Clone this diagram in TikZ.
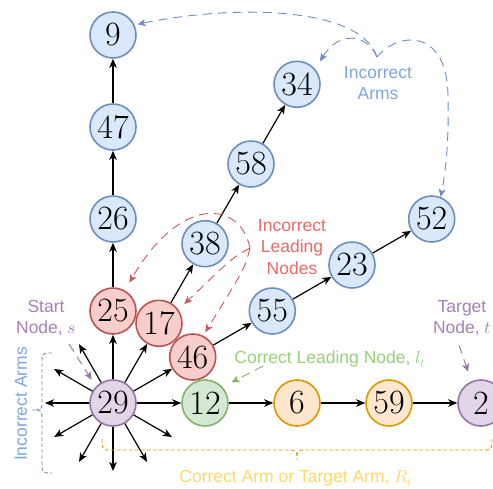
\documentclass[tikz,border=0pt]{standalone}
\usepackage{fontspec}
\usepackage{unicode-math}
\setmathfont{Latin Modern Math}
\newfontfamily\lblfont{Liberation Sans}
\usetikzlibrary{arrows.meta}

\definecolor{bluF}{HTML}{DAE8FC}\definecolor{bluD}{HTML}{6C8EBF}
\definecolor{redF}{HTML}{F8CECC}\definecolor{redD}{HTML}{B85450}
\definecolor{grnF}{HTML}{D5E8D4}\definecolor{grnD}{HTML}{82B366}
\definecolor{orgF}{HTML}{FFE6CC}\definecolor{orgD}{HTML}{D79B00}
\definecolor{purF}{HTML}{E1D5E7}\definecolor{purD}{HTML}{9673A6}
\definecolor{bluT}{HTML}{7EA6E0}
\definecolor{redT}{HTML}{EA6B66}
\definecolor{redH}{HTML}{C95A58}
\definecolor{grnT}{HTML}{97D077}
\definecolor{ylwT}{HTML}{FFD966}
\definecolor{purT}{HTML}{A680B8}

\tikzset{
  vtx/.style={circle, minimum size=46pt, inner sep=0pt, line width=1.6pt,
    font=\fontsize{34}{34}\selectfont},
  bluV/.style={vtx, draw=bluD, fill=bluF},
  redV/.style={vtx, draw=redD, fill=redF},
  grnV/.style={vtx, draw=grnD, fill=grnF},
  orgV/.style={vtx, draw=orgD, fill=orgF},
  purV/.style={vtx, draw=purD, fill=purF},
  arm/.style={-{Stealth[length=9pt,width=7.5pt,inset=2.5pt]}, line width=1.2pt, black},
  hint/.style={-{Stealth[length=8pt,width=7pt,inset=2pt]}, line width=0.9pt,
    dash pattern=on 9pt off 6pt},
  brace/.style={line width=0.9pt, dash pattern=on 3.5pt off 2.5pt},
  lbl/.style={font=\lblfont\fontsize{17.5}{21.5}\selectfont, align=center, inner sep=0pt},
}

\begin{document}
\begin{tikzpicture}[x=1pt,y=-1pt]
\useasboundingbox (0,0) rectangle (493,488);
\clip (0,0) rectangle (493,488);

% start node and the row of the correct arm
\node[purV] (n29) at (113,403) {29};
\node[grnV] (n12) at (205,403) {12};
\node[orgV] (n6)  at (297,403) {6};
\node[orgV] (n59) at (389,403) {59};
\node[purV] (n2)  at (481,403) {2};

% vertical arm
\node[redV] (n25) at (113,311) {25};
\node[bluV] (n26) at (113,219) {26};
\node[bluV] (n47) at (113,127) {47};
\node[bluV] (n9)  at (113,35)  {9};

% 60 degree arm
\node[redV] (n17) at (159,323.3) {17};
\node[bluV] (n38) at (205,243.7) {38};
\node[bluV] (n58) at (251,164)   {58};
\node[bluV] (n34) at (297,84.3)  {34};

% 30 degree arm
\node[redV] (n46) at (192.7,357) {46};
\node[bluV] (n55) at (272.3,311) {55};
\node[bluV] (n23) at (352,265)   {23};
\node[bluV] (n52) at (431.7,219) {52};

% arms
\draw[arm] (n29) -- (n12);
\draw[arm] (n12) -- (n6);
\draw[arm] (n6) -- (n59);
\draw[arm] (n59) -- (n2);
\draw[arm] (n29) -- (n25);
\draw[arm] (n25) -- (n26);
\draw[arm] (n26) -- (n47);
\draw[arm] (n47) -- (n9);
\draw[arm] (n29) -- (n17);
\draw[arm] (n17) -- (n38);
\draw[arm] (n38) -- (n58);
\draw[arm] (n58) -- (n34);
\draw[arm] (n29) -- (n46);
\draw[arm] (n46) -- (n55);
\draw[arm] (n55) -- (n23);
\draw[arm] (n23) -- (n52);

% short arms leaving the start node
\foreach \a in {120,150,180,210,240,270,300,330}{
  \coordinate (e\a) at ({113+68*cos(\a)},{403-68*sin(\a)});
  \draw[arm] (n29) -- (e\a);
}

% labels
\node[lbl, text=bluT] (lArmsTop) at (378,83) {Incorrect\\Arms};
\node[lbl, text=redT] (lLead) at (292,247) {Incorrect\\Leading\\Nodes};
\node[lbl, text=grnT, anchor=base] (lCorr) at (330,363) {Correct Leading Node, $l_t$};
\node[lbl, text=purT] (lStart) at (46,318) {Start\\Node, $s$};
\node[lbl, text=purT] (lTarget) at (462,318) {Target\\Node, $t$};
\node[lbl, text=ylwT, anchor=base] (lRt) at (296,482.5) {Correct Arm or Target Arm, $R_t$};
\node[lbl, text=bluT, rotate=90] (lArmsLeft) at (21,404) {Incorrect Arms};

% blue hints: incorrect arms
\coordinate (ia) at (377,57);
\draw[hint, bluD, shorten >=3pt] (ia) .. controls (360,5) and (230,5) .. (n9.25);
\draw[hint, bluD, shorten >=9pt] (ia) .. controls (366,32) and (338,32) .. (n34.40);
\draw[hint, bluD] (ia) .. controls (400,30) and (447,30) .. (448,95)
  .. controls (449,140) and (446,170) .. (n52.68);

% red hints: incorrect leading nodes
\coordinate (ra) at (250,248);
\draw[hint, redH, shorten >=9pt] (ra) .. controls (240,200) and (180,195) .. (n25.60);
\draw[hint, redH, shorten >=8pt] (ra) .. controls (232,258) .. (n17.35);
\draw[hint, redH, shorten >=4pt] (ra) .. controls (245,268) .. (n46.64);

% green, purple hints
\coordinate (ga) at (263,366);
\draw[hint, grnD, shorten >=10pt] (ga) -- (n12.42);
\coordinate (sa) at (69,344);
\draw[hint, purD, shorten >=8pt] (sa) -- (n29.136);
\coordinate (ta) at (459,345);
\draw[hint, purD, shorten >=10pt] (ta) -- (n2.114);

% braces
\draw[brace, bluD] (52,353) .. controls (42,353) .. (42,363) -- (42,400)
  .. controls (42,410) .. (32,410) .. controls (42,410) .. (42,420) -- (42,463)
  .. controls (42,473) .. (52,473);
\draw[brace, orgD] (102,439) .. controls (102,450) .. (112,450) -- (287,450)
  .. controls (297,450) .. (297,460) .. controls (297,450) .. (307,450) -- (482,450)
  .. controls (492,450) .. (492,439);
\end{tikzpicture}
\end{document}
